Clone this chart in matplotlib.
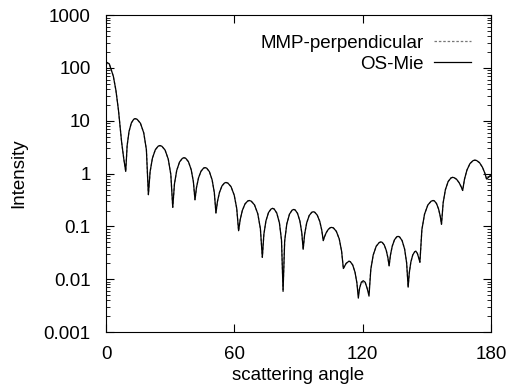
import matplotlib
matplotlib.use("Agg")
import matplotlib.pyplot as plt
from matplotlib.ticker import LogLocator, NullFormatter, FixedLocator

# values (scattering angle in degrees, intensity)
angle = [
    0, 1.5, 3.4, 4.6, 5.8, 7.3, 8.3, 9.2,
    9.86, 10.74, 11.84, 12.94, 13.6, 14.53, 16.08, 17.63, 18.87, 19.8,
    20.61, 21.69, 23.04, 24.39, 25.2, 26.1, 27.6, 29.1, 30.3, 31.2,
    32.0, 33.06, 34.38, 35.71, 36.5, 37.27, 38.54, 39.82, 40.84, 41.6,
    42.3, 43.25, 44.42, 45.6, 46.3, 47.07, 48.34, 49.62, 50.64, 51.4,
    52.1, 53.05, 54.22, 55.4, 56.1, 56.99, 58.46, 59.94, 61.12, 62.0,
    62.75, 63.75, 65.0, 66.25, 67.0, 67.92, 69.44, 70.97, 72.19, 73.1,
    73.82, 74.78, 75.98, 77.18, 77.9, 78.64, 79.86, 81.09, 82.07, 82.8,
    83.55, 84.55, 85.8, 87.05, 87.8, 88.46, 89.56, 90.66, 91.54, 92.2,
    92.9, 93.85, 95.02, 96.2, 96.9, 97.6, 98.78, 99.96, 100.9, 101.6,
    102.19, 102.97, 103.94, 104.92, 105.5, 106.33, 107.7, 109.08, 110.18, 111.0,
    112.3, 113.6, 114.26, 115.36, 116.46, 117.34, 118.0,
    118.6, 119.4, 120.3, 121.2, 122.2, 123.0,
    123.84, 124.96, 126.36, 127.76, 128.6, 129.17, 130.12, 131.07, 131.83, 132.4,
    133.03, 133.87, 134.92, 135.97, 136.6, 137.3, 138.48, 139.66, 140.6, 141.3,
    141.84, 142.56, 143.46, 144.36, 144.9, 145.6, 146.3, 146.8,
    147.73, 148.97, 150.52, 152.07, 153.0, 153.59, 154.56, 155.54, 156.32, 156.9,
    157.68, 158.72, 160.02, 161.32, 162.1, 162.8, 163.98, 165.16, 166.1, 166.8,
    167.66, 168.8, 170.22, 171.65, 172.5, 173.33, 174.7, 176.08, 177.18, 178.0,
    179.0, 180.0,
]

os_mie = [
    130, 120, 70, 38, 16, 3.9, 1.9, 1.1,
    3.38, 6.25, 9.12, 10.7, 11, 10.68, 8.99, 5.91, 2.84, 0.40,
    1.09, 1.96, 2.83, 3.31, 3.4, 3.30, 2.80, 1.88, 0.96, 0.23,
    0.64, 1.15, 1.66, 1.95, 2.0, 1.95, 1.68, 1.19, 0.71, 0.32,
    0.545, 0.83, 1.11, 1.27, 1.3, 1.27, 1.09, 0.76, 0.44, 0.18,
    0.295, 0.44, 0.585, 0.665, 0.68, 0.662, 0.567, 0.393, 0.22, 0.083,
    0.135, 0.201, 0.267, 0.303, 0.31, 0.301, 0.256, 0.174, 0.091, 0.026,
    0.071, 0.127, 0.183, 0.214, 0.22, 0.214, 0.179, 0.117, 0.055, 0.0059,
    0.053, 0.112, 0.171, 0.204, 0.21, 0.205, 0.177, 0.127, 0.077, 0.037,
    0.072, 0.117, 0.161, 0.185, 0.19, 0.186, 0.164, 0.125, 0.085, 0.054,
    0.064, 0.076, 0.088, 0.095, 0.096, 0.094, 0.081, 0.058, 0.034, 0.016,
    0.020, 0.022, 0.0215, 0.0187, 0.0136, 0.0085, 0.0044,
    0.0068, 0.0088, 0.0094, 0.0088, 0.0066, 0.0048,
    0.0154, 0.0288, 0.0422, 0.0496, 0.051, 0.050, 0.0447, 0.0352, 0.0256, 0.018,
    0.0288, 0.0424, 0.056, 0.0636, 0.065, 0.0633, 0.054, 0.0372, 0.0204, 0.0071,
    0.0133, 0.0211, 0.0289, 0.0332, 0.034, 0.031, 0.025, 0.021,
    0.087, 0.171, 0.255, 0.301, 0.31, 0.304, 0.272, 0.214, 0.156, 0.11,
    0.28, 0.495, 0.709, 0.828, 0.85, 0.839, 0.78, 0.672, 0.565, 0.48,
    0.784, 1.166, 1.549, 1.76, 1.8, 1.77, 1.61, 1.315, 1.02, 0.79,
    0.86, 0.95,
]

# MMP follows OS-Mie except at a few deep minima where it departs slightly
mmp_changes = {0: 122, 118.0: 0.0052, 120.3: 0.0086, 123.0: 0.0057, 82.8: 0.0064}
mmp_perp = [mmp_changes.get(a, v) for a, v in zip(angle, os_mie)]

plt.rcParams["font.family"] = ["Liberation Sans", "DejaVu Sans"]
plt.rcParams["font.size"] = 13.5

fig = plt.figure(figsize=(5.25, 3.88), dpi=100)
ax = fig.add_axes([0.202, 0.144, 0.733, 0.817])

ax.plot(angle, mmp_perp, color="#777777", lw=0.9, ls=(0, (2, 1.5)), label="MMP-perpendicular")
ax.plot(angle, os_mie, color="black", lw=0.9, label="OS-Mie")

ax.set_yscale("log")
ax.set_xlim(0, 180)
ax.set_ylim(0.001, 1000)
ax.xaxis.set_major_locator(FixedLocator([0, 60, 120, 180]))
ax.set_yticks([0.001, 0.01, 0.1, 1, 10, 100, 1000])
ax.set_yticklabels(["0.001", "0.01", "0.1", "1", "10", "100", "1000"])
ax.yaxis.set_minor_locator(LogLocator(base=10, subs=[2, 3, 4, 5, 6, 7, 8, 9]))
ax.yaxis.set_minor_formatter(NullFormatter())
ax.tick_params(which="both", direction="in", top=True, right=True)
ax.tick_params(axis="x", which="major", length=6, pad=10)
ax.tick_params(axis="y", which="major", length=6, pad=11)
ax.tick_params(which="minor", length=3)

ax.set_xlabel("scattering angle", labelpad=3)
ax.set_ylabel("Intensity", labelpad=12)

ax.legend(loc="upper right", bbox_to_anchor=(0.948, 0.938), frameon=False,
          markerfirst=False, handlelength=1.97, handletextpad=0.55,
          labelspacing=0.2, borderpad=0, borderaxespad=0)

fig.savefig("out.png", dpi=100)
